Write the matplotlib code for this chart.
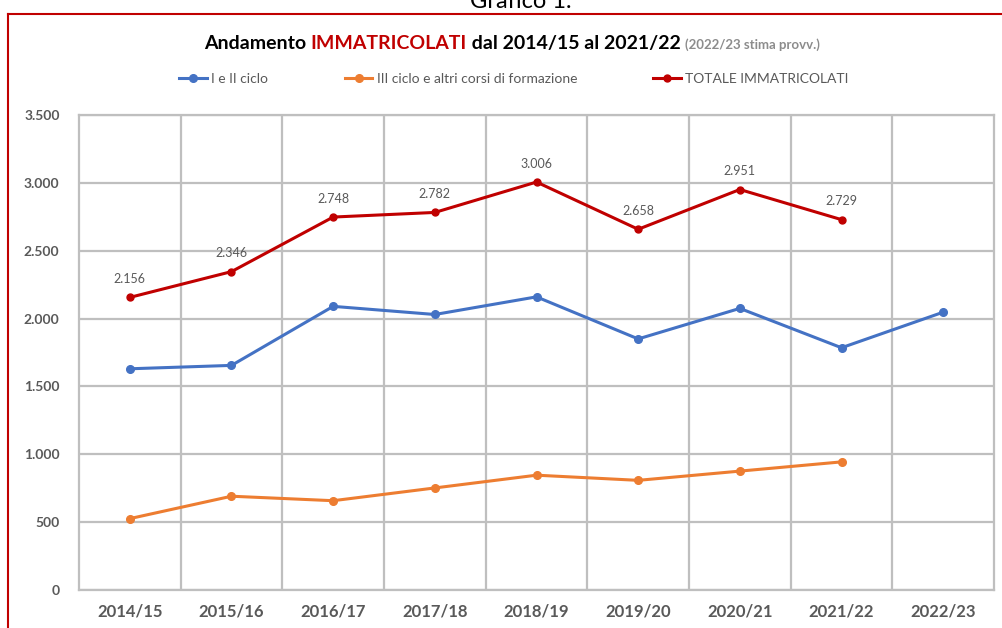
import matplotlib.pyplot as plt
from matplotlib.lines import Line2D
from matplotlib.ticker import FuncFormatter

# Dati
anni = ['2014/15', '2015/16', '2016/17', '2017/18', '2018/19',
        '2019/20', '2020/21', '2021/22', '2022/23']
ciclo_1_2 = [1630, 1655, 2090, 2030, 2160, 1850, 2075, 1785, 2047]
ciclo_3 = [526, 691, 658, 752, 846, 808, 876, 944]
totale = [2156, 2346, 2748, 2782, 3006, 2658, 2951, 2729]

BLU = '#4472C4'
ARANCIO = '#ED7D31'
ROSSO = '#C00000'
GRIGIO = '#595959'

plt.rcParams['font.family'] = ['Lato', 'DejaVu Sans']

fig = plt.figure(figsize=(10.02, 6.28), dpi=100)
ax = fig.add_axes([79 / 1002, 1 - 590 / 628, 915 / 1002, 475 / 628])

x = list(range(len(anni)))
ax.plot(x, ciclo_1_2, color=BLU, lw=2.2, marker='o', ms=5.5, label='I e II ciclo')
ax.plot(x[:len(ciclo_3)], ciclo_3, color=ARANCIO, lw=2.2, marker='o', ms=5.5,
        label='III ciclo e altri corsi di formazione')
ax.plot(x[:len(totale)], totale, color=ROSSO, lw=2.2, marker='o', ms=5,
        label='TOTALE IMMATRICOLATI')

for i, v in enumerate(totale):
    ax.annotate(f'{v:,}'.replace(',', '.'), (i, v), xytext=(0, 9),
                textcoords='offset points', ha='center', va='bottom',
                fontsize=9, color=GRIGIO)

ax.set_xlim(-0.5, len(anni) - 0.5)
ax.set_ylim(0, 3500)
ax.set_yticks(range(0, 3501, 500))
ax.yaxis.set_major_formatter(FuncFormatter(lambda v, p: f'{int(v):,}'.replace(',', '.')))
ax.set_xticks(x)
ax.set_xticklabels(anni)

# griglia: linee verticali tra le categorie
for k in range(1, len(anni)):
    ax.axvline(k - 0.5, color='#BFBFBF', lw=1.6, zorder=0)
ax.grid(axis='y', color='#BFBFBF', lw=1.6, zorder=0)
ax.set_axisbelow(True)
for s in ax.spines.values():
    s.set_color('#BFBFBF')
    s.set_linewidth(1.6)

ax.tick_params(axis='both', length=0)
ax.tick_params(axis='y', pad=14, labelsize=10, labelcolor=GRIGIO)
ax.tick_params(axis='x', pad=10, labelsize=12, labelcolor=GRIGIO)
for t in ax.get_yticklabels():
    t.set_fontweight('bold')
for t in ax.get_xticklabels():
    t.set_fontweight('bold')

# legenda
leg = fig.legend(loc='center', bbox_to_anchor=(0.513, 1 - 79 / 628), ncol=3,
                 frameon=False, fontsize=10, handlelength=2.0,
                 columnspacing=5.5, handletextpad=0.3)
for t in leg.get_texts():
    t.set_color(GRIGIO)

# titolo composto
renderer = fig.canvas.get_renderer()
parti = [('Andamento ', 'black', 14, 'bold'),
         ('IMMATRICOLATI', ROSSO, 14, 'bold'),
         (' dal 2014/15 al 2021/22 ', 'black', 14, 'bold'),
         ('(2022/23 stima provv.)', '#8C8C8C', 9.5, 'bold')]
testi = []
for s, c, fs, fw in parti:
    testi.append(fig.text(0, 1 - 49 / 628, s, color=c, fontsize=fs,
                          fontweight=fw, ha='left', va='baseline'))
larghezze = [t.get_window_extent(renderer).width for t in testi]
x0 = 512 - sum(larghezze) / 2
for t, w in zip(testi, larghezze):
    t.set_x(x0 / 1002)
    x0 += w

fig.text(0.52, 1 - 1 / 628, 'Grafico 1.', ha='center', va='center',
         fontsize=17, color='black')

# cornice rossa
fig.add_artist(Line2D([8 / 1002, 1.0], [1 - 14 / 628] * 2, color=ROSSO, lw=1.5,
                      transform=fig.transFigure))
fig.add_artist(Line2D([8 / 1002] * 2, [0, 1 - 14 / 628], color=ROSSO, lw=1.5,
                      transform=fig.transFigure))

fig.savefig('out.png', dpi=100, facecolor='white')
